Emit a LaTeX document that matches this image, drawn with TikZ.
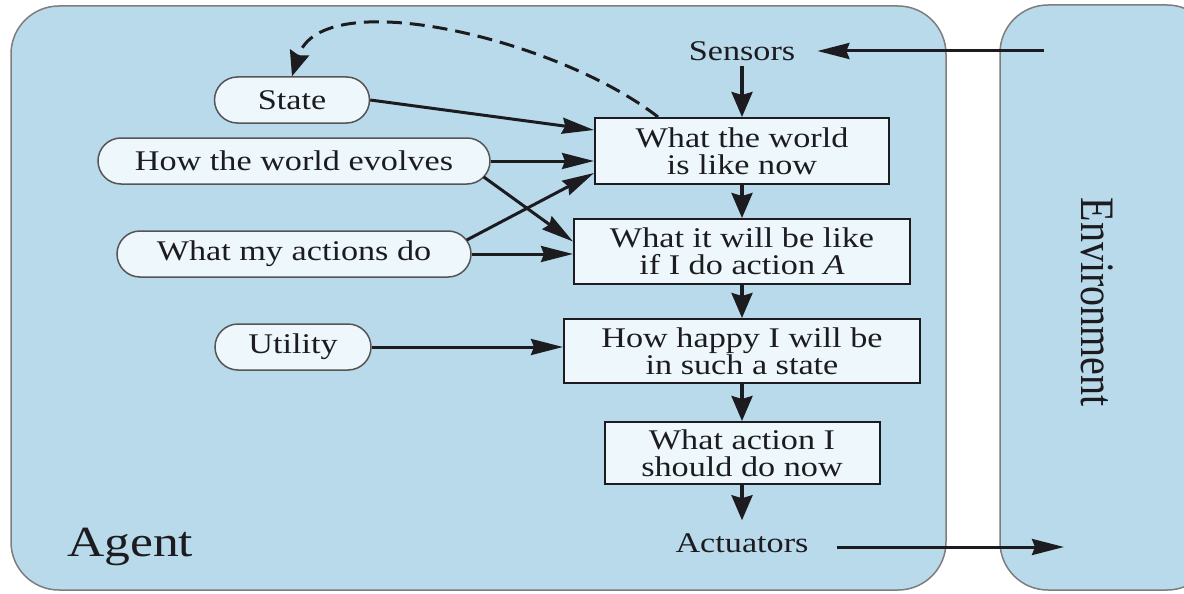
\documentclass[tikz,border=0pt]{standalone}
\usepackage{fontspec}
\usepackage{graphicx}
\setmainfont{Liberation Serif}[FakeStretch=1.2]
\newfontfamily\envfont{Liberation Serif}
\usetikzlibrary{arrows.meta,shapes.misc,calc}
\definecolor{agentblue}{RGB}{185,218,234}
\definecolor{nodefill}{RGB}{237,247,252}
\definecolor{bordergray}{RGB}{125,125,125}
\definecolor{ovalgray}{RGB}{85,85,85}
\definecolor{inkcol}{RGB}{28,28,32}
\newcommand{\nodefont}{\fontsize{28.5}{27}\selectfont}
\tikzset{
  panel/.style={fill=agentblue, draw=bordergray, line width=1.5pt, rounded corners=48pt},
  oval/.style={rounded rectangle, draw=ovalgray, fill=nodefill, line width=1.5pt,
    minimum height=46pt, inner xsep=2pt, font=\nodefont, text=inkcol},
  stepbox/.style={rectangle, draw=inkcol, fill=nodefill, line width=2pt, align=center,
    font=\nodefont, text=inkcol, inner sep=0pt},
  lbl/.style={font=\nodefont, text=inkcol},
  harr/.style={-{Stealth[length=32pt,width=16pt,inset=3pt]}, line width=3pt, draw=inkcol},
  varr/.style={-{Stealth[length=25pt,width=21pt,inset=3pt]}, line width=3.4pt, draw=inkcol},
  dasharr/.style={-{Stealth[length=25pt,width=20pt,inset=3pt]}, line width=3pt, draw=inkcol,
    dash pattern=on 15pt off 8pt},
}
\begin{document}
\begin{tikzpicture}[x=1pt,y=-1pt]
\useasboundingbox (0,0) rectangle (1184,594);
\clip (0,0) rectangle (1184,594);
% panels
\draw[panel] (11,6) rectangle (946,590);
\draw[panel] (1000,5) rectangle (1215,590);
\node[text=inkcol, font=\fontsize{43}{43}\selectfont, anchor=base west, inner sep=0pt] (agent) at (67,556) {Agent};
\node[rotate=-90, text=inkcol, inner sep=0pt] (env) at (1097,302)
  {\scalebox{1}[1.2]{\envfont\fontsize{40}{40}\selectfont Environment}};
% left ovals
\node[oval, minimum width=159pt] (state) at (292,100) {State};
\node[oval, minimum width=396pt] (hwe) at (294,161) {How the world evolves};
\node[oval, minimum width=358pt] (wmad) at (294,254) {What my actions do};
\node[oval, minimum width=160pt] (util) at (293,347) {Utility};
% central chain
\node[lbl, inner xsep=22pt, inner ysep=5pt] (sensors) at (742,51) {Sensors};
\node[stepbox, minimum width=294pt, minimum height=66pt] (b1) at (742,151) {What the world\\is like now};
\node[stepbox, minimum width=336pt, minimum height=65pt] (b2) at (742,251.5) {What it will be like\\if I do action \textit{A}};
\node[stepbox, minimum width=356pt, minimum height=64pt] (b3) at (742,351) {How happy I will be\\in such a state};
\node[stepbox, minimum width=275pt, minimum height=62pt] (b4) at (742,453) {What action I\\should do now};
\node[lbl, inner xsep=28pt, inner ysep=13pt] (act) at (742,543) {Actuators};
\coordinate (envin) at (1044,51);
\coordinate (envout) at (1064,547);
% vertical arrows
\draw[varr] (sensors.south) -- (b1.north);
\draw[varr] (b1.south) -- (b2.north);
\draw[varr] (b2.south) -- (b3.north);
\draw[varr] (b3.south) -- (b4.north);
\draw[varr] (b4.south) -- (act.north);
% environment arrows
\draw[harr] (envin) -- (sensors.east);
\draw[harr] (act.east |- envout) -- (envout);
% inputs
\draw[harr] (state.east) -- ($(b1.west)+(0,-21)$);
\draw[harr] (hwe.east) -- (hwe.east -| b1.west);
\draw[harr] ($(hwe.east)+(-7,16)$) -- ($(b2.west)+(0,-10)$);
\draw[harr] ($(wmad.east)+(-5,-14)$) -- ($(b1.west)+(0,22)$);
\draw[harr] (wmad.east) -- (wmad.east -| b2.west);
\draw[harr] (util.east) -- (util.east -| b3.west);
% dashed feedback
\draw[dasharr] ($(b1.north west)+(64,0)$) .. controls (560,40) and (322,-18) .. (state.north);
\end{tikzpicture}
\end{document}
